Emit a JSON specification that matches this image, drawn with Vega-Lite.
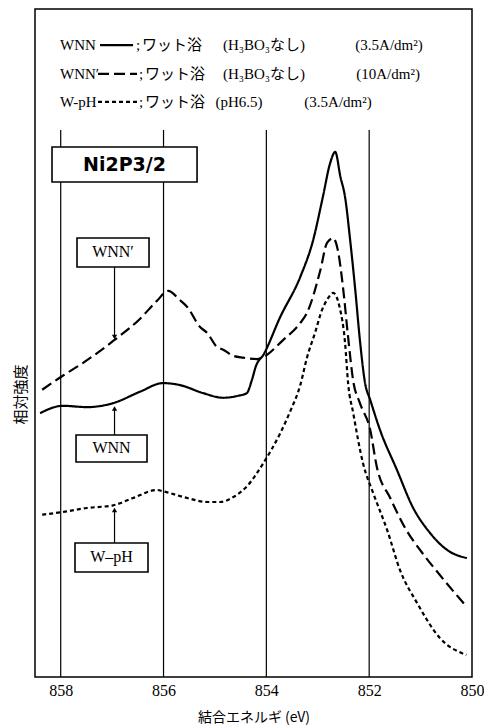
{
  "$schema": "https://vega.github.io/schema/vega-lite/v6.json",
  "width": 437,
  "height": 668,
  "autosize": {"type": "none"},
  "padding": {"left": 35, "top": 9, "right": 12, "bottom": 51},
  "background": "white",
  "config": {
    "view": {"stroke": "black", "strokeWidth": 1.5},
    "font": "Liberation Serif"
  },
  "datasets": {
    "curves": [
      {"s": "WNN", "E": 858.40, "v": 39.5}, {"s": "WNN", "E": 857.96, "v": 40.6}, {"s": "WNN", "E": 857.49, "v": 40.4},
      {"s": "WNN", "E": 856.98, "v": 41.0}, {"s": "WNN", "E": 856.46, "v": 42.7}, {"s": "WNN", "E": 856.01, "v": 44.0},
      {"s": "WNN", "E": 855.68, "v": 43.7}, {"s": "WNN", "E": 855.23, "v": 42.5}, {"s": "WNN", "E": 854.84, "v": 41.8},
      {"s": "WNN", "E": 854.55, "v": 42.1}, {"s": "WNN", "E": 854.38, "v": 42.5}, {"s": "WNN", "E": 854.28, "v": 44.5},
      {"s": "WNN", "E": 854.20, "v": 46.6}, {"s": "WNN", "E": 854.06, "v": 48.2}, {"s": "WNN", "E": 853.73, "v": 53.9},
      {"s": "WNN", "E": 853.34, "v": 59.9}, {"s": "WNN", "E": 853.09, "v": 65.4}, {"s": "WNN", "E": 852.90, "v": 71.9},
      {"s": "WNN", "E": 852.76, "v": 76.9}, {"s": "WNN", "E": 852.66, "v": 78.6}, {"s": "WNN", "E": 852.56, "v": 74.9},
      {"s": "WNN", "E": 852.47, "v": 71.9}, {"s": "WNN", "E": 852.37, "v": 65.4}, {"s": "WNN", "E": 852.27, "v": 57.9},
      {"s": "WNN", "E": 852.18, "v": 50.4}, {"s": "WNN", "E": 852.08, "v": 44.0}, {"s": "WNN", "E": 851.98, "v": 41.5},
      {"s": "WNN", "E": 851.79, "v": 37.0}, {"s": "WNN", "E": 851.46, "v": 31.0}, {"s": "WNN", "E": 851.15, "v": 25.4},
      {"s": "WNN", "E": 850.82, "v": 21.6}, {"s": "WNN", "E": 850.48, "v": 19.0}, {"s": "WNN", "E": 850.10, "v": 17.8},

      {"s": "WNN'", "E": 858.36, "v": 43.0}, {"s": "WNN'", "E": 857.96, "v": 45.1}, {"s": "WNN'", "E": 857.57, "v": 47.0},
      {"s": "WNN'", "E": 856.98, "v": 50.3}, {"s": "WNN'", "E": 856.46, "v": 53.6}, {"s": "WNN'", "E": 856.13, "v": 56.3},
      {"s": "WNN'", "E": 855.91, "v": 57.8}, {"s": "WNN'", "E": 855.68, "v": 56.4}, {"s": "WNN'", "E": 855.54, "v": 55.4},
      {"s": "WNN'", "E": 855.29, "v": 52.4}, {"s": "WNN'", "E": 855.15, "v": 51.5}, {"s": "WNN'", "E": 854.96, "v": 49.4},
      {"s": "WNN'", "E": 854.84, "v": 49.0}, {"s": "WNN'", "E": 854.65, "v": 48.1}, {"s": "WNN'", "E": 854.45, "v": 47.8},
      {"s": "WNN'", "E": 854.18, "v": 47.6}, {"s": "WNN'", "E": 854.06, "v": 47.9}, {"s": "WNN'", "E": 853.68, "v": 50.4},
      {"s": "WNN'", "E": 853.34, "v": 53.0}, {"s": "WNN'", "E": 853.21, "v": 54.5}, {"s": "WNN'", "E": 852.95, "v": 60.9},
      {"s": "WNN'", "E": 852.82, "v": 65.0}, {"s": "WNN'", "E": 852.70, "v": 65.7}, {"s": "WNN'", "E": 852.61, "v": 63.9},
      {"s": "WNN'", "E": 852.51, "v": 58.4}, {"s": "WNN'", "E": 852.41, "v": 50.9}, {"s": "WNN'", "E": 852.31, "v": 44.3},
      {"s": "WNN'", "E": 852.18, "v": 41.0}, {"s": "WNN'", "E": 851.98, "v": 37.0}, {"s": "WNN'", "E": 851.85, "v": 31.4},
      {"s": "WNN'", "E": 851.59, "v": 26.8}, {"s": "WNN'", "E": 851.30, "v": 22.3}, {"s": "WNN'", "E": 850.97, "v": 18.6},
      {"s": "WNN'", "E": 850.66, "v": 15.6}, {"s": "WNN'", "E": 850.27, "v": 12.0}, {"s": "WNN'", "E": 850.10, "v": 10.5},

      {"s": "W-pH", "E": 858.36, "v": 24.3}, {"s": "W-pH", "E": 857.96, "v": 24.7}, {"s": "W-pH", "E": 857.49, "v": 25.3},
      {"s": "W-pH", "E": 856.98, "v": 25.7}, {"s": "W-pH", "E": 856.59, "v": 26.8}, {"s": "W-pH", "E": 856.13, "v": 28.0},
      {"s": "W-pH", "E": 856.01, "v": 27.8}, {"s": "W-pH", "E": 855.54, "v": 26.8}, {"s": "W-pH", "E": 855.15, "v": 26.2},
      {"s": "W-pH", "E": 854.90, "v": 26.2}, {"s": "W-pH", "E": 854.65, "v": 26.9}, {"s": "W-pH", "E": 854.36, "v": 28.7},
      {"s": "W-pH", "E": 854.06, "v": 32.0}, {"s": "W-pH", "E": 853.73, "v": 36.5}, {"s": "W-pH", "E": 853.54, "v": 39.7},
      {"s": "W-pH", "E": 853.34, "v": 43.7}, {"s": "W-pH", "E": 853.21, "v": 47.8}, {"s": "W-pH", "E": 853.05, "v": 51.6},
      {"s": "W-pH", "E": 852.92, "v": 54.9}, {"s": "W-pH", "E": 852.80, "v": 56.7}, {"s": "W-pH", "E": 852.70, "v": 57.5},
      {"s": "W-pH", "E": 852.57, "v": 55.2}, {"s": "W-pH", "E": 852.47, "v": 50.1}, {"s": "W-pH", "E": 852.41, "v": 44.0},
      {"s": "W-pH", "E": 852.31, "v": 39.5}, {"s": "W-pH", "E": 852.12, "v": 32.0}, {"s": "W-pH", "E": 851.92, "v": 27.5},
      {"s": "W-pH", "E": 851.65, "v": 22.0}, {"s": "W-pH", "E": 851.40, "v": 16.0}, {"s": "W-pH", "E": 851.07, "v": 11.1},
      {"s": "W-pH", "E": 850.62, "v": 5.8}, {"s": "W-pH", "E": 850.11, "v": 3.3}
    ],
    "grid": [
      {"E": 858, "v0": 0, "v1": 81.9},
      {"E": 856, "v0": 0, "v1": 81.9},
      {"E": 854, "v0": 0, "v1": 81.9},
      {"E": 852, "v0": 0, "v1": 81.9}
    ],
    "keyLines": [
      {"s": "WNN", "E": 857.235, "v": 94.6}, {"s": "WNN", "E": 856.593, "v": 94.6},
      {"s": "WNN'", "E": 857.274, "v": 90.3}, {"s": "WNN'", "E": 856.516, "v": 90.3},
      {"s": "W-pH", "E": 857.274, "v": 86.1}, {"s": "W-pH", "E": 856.516, "v": 86.1}
    ],
    "keyNames": [
      {"t": "WNN", "E": 858.014, "v": 94.6},
      {"t": "WNN′", "E": 858.014, "v": 90.3},
      {"t": "W-pH", "E": 858.014, "v": 86.1}
    ],
    "keyText": [
      {"t": ";", "E": 856.496, "v": 94.6},
      {"t": "ワット浴", "E": 855.835, "v": 94.6},
      {"t": "(H₃BO₃なし)", "E": 854.045, "v": 94.6},
      {"t": "(3.5A/dm²)", "E": 851.613, "v": 94.6},
      {"t": ";", "E": 856.438, "v": 90.3},
      {"t": "ワット浴", "E": 855.776, "v": 90.3},
      {"t": "(H₃BO₃なし)", "E": 854.045, "v": 90.3},
      {"t": "(10A/dm²)", "E": 851.632, "v": 90.3},
      {"t": ";", "E": 856.438, "v": 86.1},
      {"t": "ワット浴", "E": 855.776, "v": 86.1},
      {"t": "(pH6.5)", "E": 854.531, "v": 86.1},
      {"t": "(3.5A/dm²)", "E": 852.605, "v": 86.1}
    ],
    "boxes": [
      {"E0": 858.169, "E1": 855.348, "v0": 74.10, "v1": 79.34},
      {"E0": 857.683, "E1": 856.282, "v0": 61.38, "v1": 65.72},
      {"E0": 857.702, "E1": 856.321, "v0": 32.19, "v1": 36.23},
      {"E0": 857.722, "E1": 856.302, "v0": 15.72, "v1": 20.06}
    ],
    "boxLabels": [
      {"t": "WNN′", "E": 856.983, "v": 63.55},
      {"t": "WNN", "E": 857.012, "v": 34.21},
      {"t": "W–pH", "E": 857.012, "v": 17.89}
    ],
    "title": [
      {"t": "Ni2P3/2", "E": 856.759, "v": 76.72}
    ],
    "arrows": [
      {"E": 856.953, "v0": 61.38, "v1": 51.0},
      {"E": 856.953, "v0": 36.23, "v1": 40.0},
      {"E": 856.953, "v0": 20.06, "v1": 24.8}
    ],
    "headsDown": [
      {"E": 856.953, "v": 50.9}
    ],
    "headsUp": [
      {"E": 856.953, "v": 40.2},
      {"E": 856.953, "v": 25.0}
    ]
  },
  "encoding": {
    "x": {
      "field": "E", "type": "quantitative",
      "scale": {"domain": [850, 858.5], "reverse": true, "nice": false, "zero": false},
      "axis": {
        "values": [858, 856, 854, 852, 850],
        "ticks": false, "grid": false, "domain": false,
        "labelFlush": false, "labelFont": "Liberation Serif", "labelFontSize": 16,
        "labelColor": "black", "labelPadding": 5,
        "title": "結合エネルギ (eV)", "titleFont": "Noto Sans CJK JP",
        "titleFontSize": 14, "titleFontWeight": "normal", "titleColor": "black",
        "titleY": 40, "titleBaseline": "middle"
      }
    },
    "y": {
      "field": "v", "type": "quantitative",
      "scale": {"domain": [0, 100], "nice": false, "zero": false},
      "axis": {
        "labels": false, "ticks": false, "grid": false, "domain": false,
        "title": "相対強度", "titleFont": "Noto Sans CJK JP", "titleFontSize": 15,
        "titleFontWeight": "normal", "titleColor": "black",
        "titleX": -15, "titleY": 385, "titleBaseline": "middle", "titleAlign": "center"
      }
    }
  },
  "layer": [
    {
      "data": {"name": "grid"},
      "mark": {"type": "rule", "color": "black", "strokeWidth": 1.2},
      "encoding": {
        "x": {"field": "E", "type": "quantitative"},
        "y": {"field": "v0", "type": "quantitative"},
        "y2": {"field": "v1"}
      }
    },
    {
      "data": {"name": "curves"},
      "mark": {"type": "line", "color": "black", "strokeWidth": 2.2, "interpolate": "monotone"},
      "encoding": {
        "strokeDash": {
          "field": "s", "type": "nominal",
          "scale": {"domain": ["WNN", "WNN'", "W-pH"], "range": [[1, 0], [11, 5], [4, 3]]},
          "legend": null
        }
      }
    },
    {
      "data": {"name": "keyLines"},
      "mark": {"type": "line", "color": "black", "strokeWidth": 2.2},
      "encoding": {
        "strokeDash": {
          "field": "s", "type": "nominal",
          "scale": {"domain": ["WNN", "WNN'", "W-pH"], "range": [[1, 0], [7, 3], [3, 2]]},
          "legend": null
        }
      }
    },
    {
      "data": {"name": "keyNames"},
      "mark": {"type": "text", "align": "left", "baseline": "middle", "font": "Liberation Serif", "fontSize": 15, "color": "black"},
      "encoding": {"text": {"field": "t"}}
    },
    {
      "data": {"name": "keyText"},
      "mark": {"type": "text", "align": "center", "baseline": "middle", "font": "Liberation Serif, Noto Sans CJK JP", "fontSize": 15, "color": "black"},
      "encoding": {"text": {"field": "t"}}
    },
    {
      "data": {"name": "arrows"},
      "mark": {"type": "rule", "color": "black", "strokeWidth": 1.2},
      "encoding": {
        "x": {"field": "E", "type": "quantitative"},
        "y": {"field": "v0", "type": "quantitative"},
        "y2": {"field": "v1"}
      }
    },
    {
      "data": {"name": "headsDown"},
      "mark": {"type": "point", "shape": "triangle-down", "filled": true, "color": "black", "size": 28, "opacity": 1}
    },
    {
      "data": {"name": "headsUp"},
      "mark": {"type": "point", "shape": "triangle-up", "filled": true, "color": "black", "size": 28, "opacity": 1}
    },
    {
      "data": {"name": "boxes"},
      "mark": {"type": "rect", "fill": "white", "stroke": "black", "strokeWidth": 1.6},
      "encoding": {
        "x": {"field": "E0", "type": "quantitative"},
        "x2": {"field": "E1"},
        "y": {"field": "v0", "type": "quantitative"},
        "y2": {"field": "v1"}
      }
    },
    {
      "data": {"name": "boxLabels"},
      "mark": {"type": "text", "align": "center", "baseline": "middle", "font": "Liberation Serif", "fontSize": 16, "color": "black"},
      "encoding": {"text": {"field": "t"}}
    },
    {
      "data": {"name": "title"},
      "mark": {"type": "text", "align": "center", "baseline": "middle", "font": "DejaVu Sans", "fontWeight": "bold", "fontSize": 19, "color": "black"},
      "encoding": {"text": {"field": "t"}}
    }
  ]
}
